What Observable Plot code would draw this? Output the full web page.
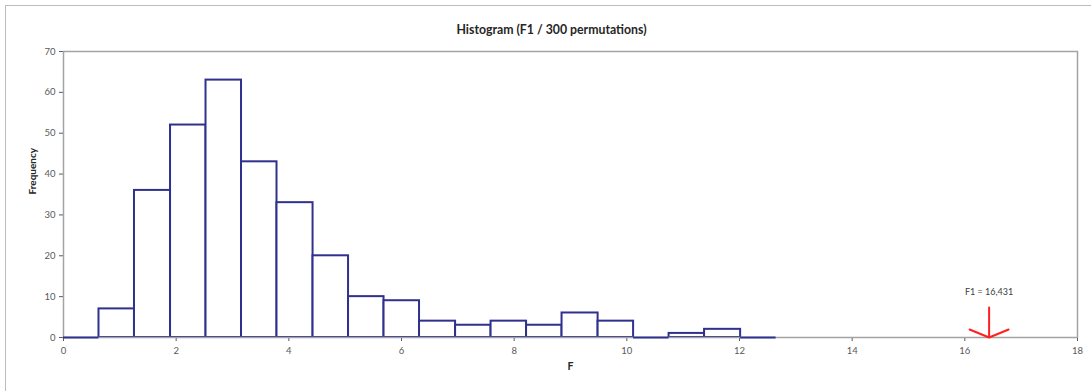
<!DOCTYPE html>
<html><head><meta charset="utf-8">
<script src="https://cdn.jsdelivr.net/npm/d3@7"></script>
<script src="https://cdn.jsdelivr.net/npm/@observablehq/plot@0.6"></script>
<style>
body{margin:0;background:#fff;}
#wrap{position:relative;width:1091px;height:391px;overflow:hidden;background:#fff;}
#border{position:absolute;left:5px;top:5px;width:1200px;height:500px;border:1.5px solid #bcbcbc;}
#wrap svg{position:absolute;left:0;top:0;}
</style></head><body><div id="wrap"><div id="border"></div></div>
<script>
const titleText = "Histogram (F1 / 300 permutations)";
const xLabel = "F";
const yLabel = "Frequency";
const binEdges = [0, 0.63, 1.26, 1.90, 2.53, 3.16, 3.79, 4.43, 5.06, 5.69, 6.32, 6.96, 7.59, 8.22, 8.85, 9.49, 10.12, 10.75, 11.38, 12.02, 12.65];
const frequencies = [0, 7, 36, 52, 63, 43, 33, 20, 10, 9, 4, 3, 4, 3, 6, 4, 0, 1, 2, 0];
const xTicks = [0, 2, 4, 6, 8, 10, 12, 14, 16, 18];
const yTicks = [0, 10, 20, 30, 40, 50, 60, 70];
const f1Value = 16.431;
const f1Label = "F1 = 16,431";

const bins = frequencies.map((f, i) => ({x1: binEdges[i], x2: binEdges[i + 1], f}));
const navy = "#30308f";

const arrowShape = {
  draw(context, l) {
    context.moveTo(0, 0);
    context.lineTo(0, -l);
    context.moveTo(-19.5, -l + 8);
    context.lineTo(0, -l);
    context.lineTo(19.5, -l + 8);
  }
};

const chart = Plot.plot({
  width: 1091, height: 391,
  marginLeft: 63, marginRight: 14, marginTop: 51, marginBottom: 54,
  style: {fontFamily: "Lato, 'Open Sans', sans-serif", fontSize: "9.5px", color: "#595959", background: "transparent", overflow: "visible"},
  x: {domain: [0, 18], ticks: xTicks, tickSize: 4, tickPadding: 6, label: null},
  y: {domain: [0, 70], ticks: yTicks, tickSize: 4, tickPadding: 4, label: null},
  marks: [
    Plot.rect(bins.filter(d => d.f > 0), {x1: "x1", x2: "x2", y1: 0, y2: "f", fill: "white", stroke: navy, strokeWidth: 2}),
    Plot.frame({stroke: "#a3a3a3", strokeWidth: 1.5}),
    Plot.ruleY(bins.filter(d => d.f === 0), {x1: "x1", x2: "x2", y: 0, stroke: navy, strokeWidth: 2}),
    Plot.vector([f1Value], {x: d => d, y: 0, length: 30, rotate: 180, anchor: "end", stroke: "#ff2020", strokeWidth: 2, shape: arrowShape}),
    Plot.text([{x: f1Value, label: f1Label}], {x: "x", y: 0, text: "label", dy: -45, fill: "#404040", fontSize: 9}),
    Plot.text([titleText], {frameAnchor: "top", dx: -19, dy: -26, fontWeight: "bold", fontSize: 12.3, fill: "#262626"}),
    Plot.text([yLabel], {frameAnchor: "left", dx: -31, rotate: -90, fontWeight: "bold", fontSize: 10, fill: "#262626"}),
    Plot.text([xLabel], {frameAnchor: "bottom", dy: 32, fontWeight: "bold", fontSize: 10.5, fill: "#262626"})
  ]
});
document.getElementById("wrap").appendChild(chart);
</script>
</body></html>
